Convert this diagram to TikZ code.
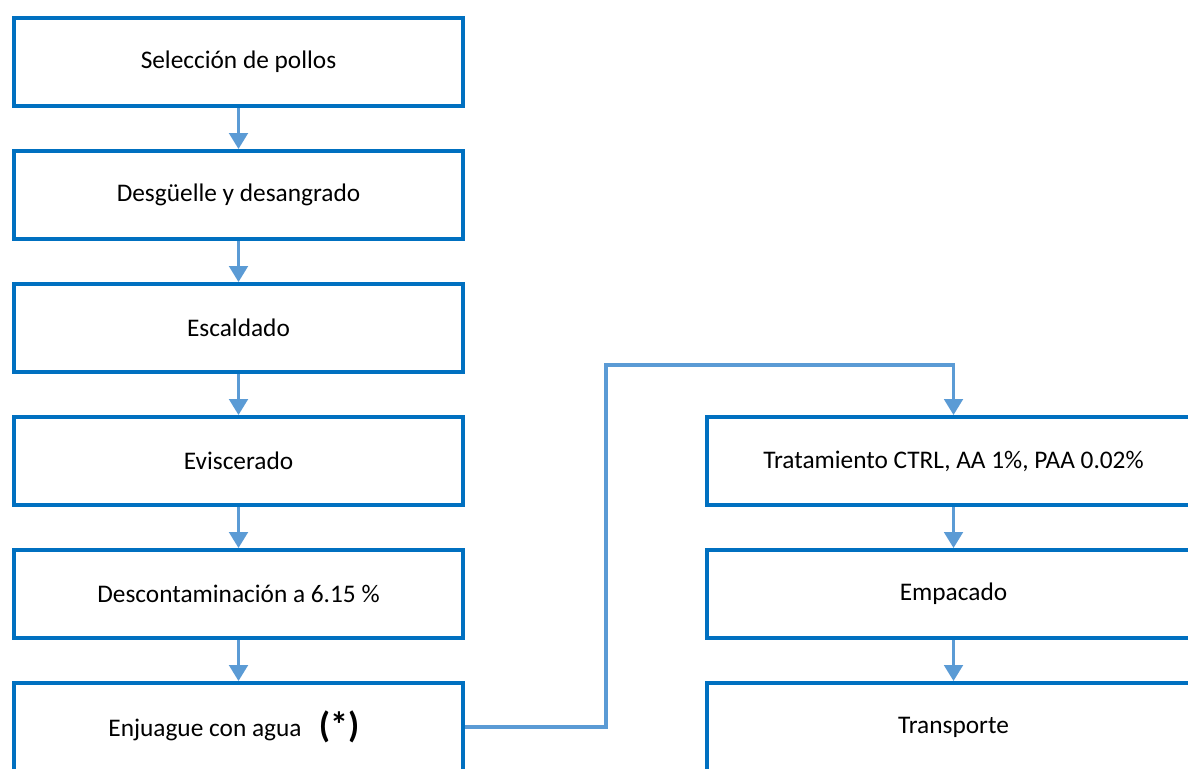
\documentclass[tikz,border=0pt]{standalone}
\usepackage{fontspec}
\setmainfont{Carlito}
\usetikzlibrary{arrows.meta}
\definecolor{boxblue}{HTML}{0070C0}
\definecolor{arrblue}{HTML}{5B9BD5}
\begin{document}
\begin{tikzpicture}[x=0.75pt,y=-0.75pt,
  stepbox/.style={draw=boxblue,line width=3pt,fill=white,rectangle,
    minimum width=336.75pt,minimum height=66pt,inner sep=0pt,
    font=\fontsize{19pt}{22pt}\selectfont},
  widebox/.style={stepbox,minimum width=369.75pt},
  conn/.style={draw=arrblue,line width=2.3pt,-{Triangle[width=14pt,length=12pt]}}]
\useasboundingbox (0,0) rectangle (1188,768);
\fill[white] (0,0) rectangle (1188,768);
\clip (0,0) rectangle (1188,768);
\node[stepbox] (b1) at (238.5,62) {Selección de pollos};
\node[stepbox] (b2) at (238.5,195) {Desgüelle y desangrado};
\node[stepbox] (b3) at (238.5,328) {Escaldado};
\node[stepbox] (b4) at (238.5,461) {Eviscerado};
\node[stepbox] (b5) at (238.5,594) {Descontaminación a 6.15 \%};
\node[stepbox] (b6) at (238.5,727) {\hspace*{-7pt}Enjuague con agua\hspace{13pt}\raisebox{-1pt}{\fontsize{27pt}{30pt}\selectfont\bfseries(*)}};
\node[widebox] (r1) at (953.5,461) {Tratamiento CTRL, AA 1\%, PAA 0.02\%};
\node[widebox] (r2) at (953.5,594) {Empacado};
\node[widebox] (r3) at (953.5,727) {Transporte};
\coordinate (k1) at (606,365);
\draw[conn] (b1) -- (b2);
\draw[conn] (b2) -- (b3);
\draw[conn] (b3) -- (b4);
\draw[conn] (b4) -- (b5);
\draw[conn] (b5) -- (b6);
\draw[conn] (b6.east) -| (k1) -| (r1.north);
\draw[conn] (r1) -- (r2);
\draw[conn] (r2) -- (r3);
\end{tikzpicture}
\end{document}
